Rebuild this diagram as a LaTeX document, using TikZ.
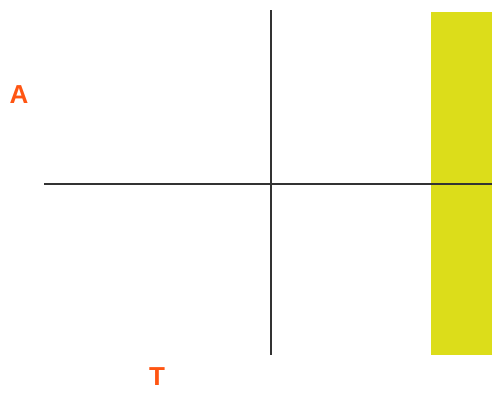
\documentclass[tikz,border=0pt]{standalone}
\usepackage{fontspec}
\setsansfont{Liberation Sans}
\usepackage{tikz}
\usetikzlibrary{positioning}
\definecolor{labelorange}{HTML}{FF5512}
\definecolor{bandyellow} {HTML}{DCDD1A}
\definecolor{axisgray}   {HTML}{333333}
\tikzset{
  axisline/.style={line width=1pt, draw=axisgray},
  axislabel/.style={font=\sffamily\bfseries\fontsize{13}{15}\selectfont,
    text=labelorange, inner sep=0pt},
  band/.style={fill=bandyellow, draw=none}
}
\begin{document}
\begin{tikzpicture}[x=0.5pt, y=-0.5pt]
  \useasboundingbox (0,0) rectangle (492,392);
  % yellow band on the right
  \fill[band] (431,12) rectangle (492,355);
  % axes
  \coordinate (hleft)  at (44,184);
  \coordinate (hright) at (492,184);
  \coordinate (vtop)   at (271,10);
  \coordinate (vbot)   at (271,355);
  \draw[axisline] (hleft) -- (hright);
  \draw[axisline] (vtop) -- (vbot);
  % labels
  \node[axislabel] (alabel) at (19,95) {A};
  \node[axislabel] (tlabel) at (157,377) {T};
\end{tikzpicture}
\end{document}
